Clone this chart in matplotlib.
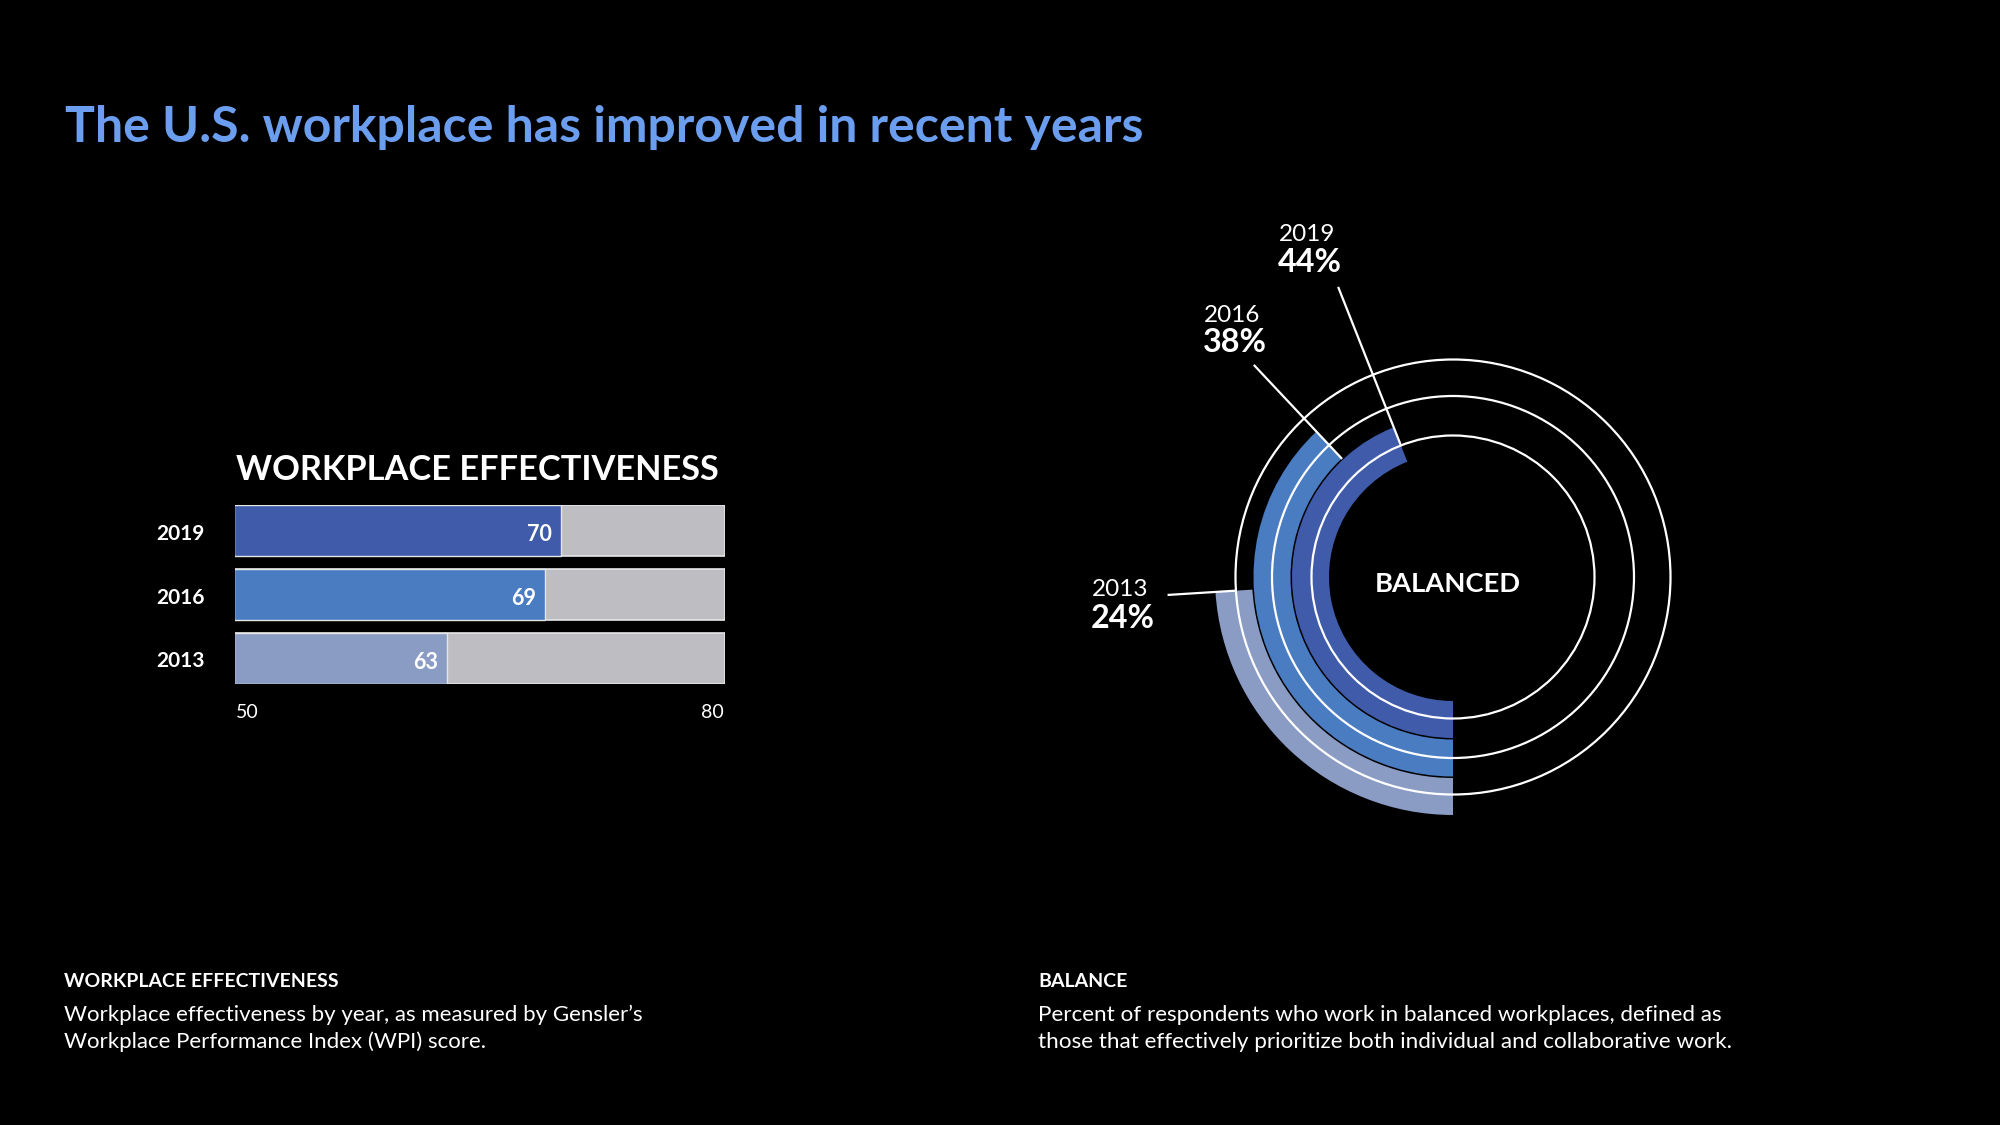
import matplotlib
matplotlib.use("Agg")
import matplotlib.pyplot as plt
import numpy as np
from matplotlib.patches import Wedge, Circle

plt.rcParams['font.family'] = ['Lato', 'DejaVu Sans']

# ---------------- data ----------------
title = "The U.S. workplace has improved in recent years"
bar_title = "WORKPLACE EFFECTIVENESS"
bar_years = ["2019", "2016", "2013"]
wpi_scores = [70, 69, 63]
wpi_min, wpi_max = 50, 80
bar_colors = ["#3F5BAA", "#4A7CC2", "#8A9CC4"]
track_color = "#BEBEC2"

donut_label = "BALANCED"
donut_years = ["2019", "2016", "2013"]
balance_pct = [44, 38, 24]
donut_colors = ["#3F5BAA", "#4A7CC2", "#8A9CC4"]

cap_left_head = "WORKPLACE EFFECTIVENESS"
cap_left_body = ["Workplace effectiveness by year, as measured by Gensler\u2019s",
                 "Workplace Performance Index (WPI) score."]
cap_right_head = "BALANCE"
cap_right_body = ["Percent of respondents who work in balanced workplaces, defined as",
                  "those that effectively prioritize both individual and collaborative work."]

BG = "black"
W, H = 2000, 1125
fig = plt.figure(figsize=(20, 11.25), dpi=100, facecolor=BG)

# overlay axes in pixel coordinates
ov = fig.add_axes([0, 0, 1, 1], facecolor=BG)
ov.set_xlim(0, W)
ov.set_ylim(H, 0)
ov.axis('off')

renderer = fig.canvas.get_renderer()


def fit(t, target_w):
    bb = t.get_window_extent(renderer)
    t.set_fontsize(t.get_fontsize() * target_w / bb.width)
    return t.get_fontsize()


# main title
t = ov.text(65, 141.7, title, color="#6B9EEE", fontsize=34, fontweight='bold',
            ha='left', va='baseline')
fit(t, 1081)

# ---------------- bar chart ----------------
bx0, bx1, by0, by1 = 234.5, 724.8, 505, 684
axb = fig.add_axes([bx0 / W, (H - by1) / H, (bx1 - bx0) / W, (by1 - by0) / H])
axb.set_facecolor(BG)
ypos = np.arange(len(bar_years))
bh = 0.797
axb.barh(ypos, [wpi_max - wpi_min] * len(ypos), left=wpi_min, height=bh,
         color=track_color, edgecolor="#E6E6E6", linewidth=1.2)
axb.barh(ypos, np.array(wpi_scores) - wpi_min, left=wpi_min, height=bh,
         color=bar_colors, edgecolor="#E6E6E6", linewidth=1.0)
axb.set_xlim(wpi_min, wpi_max)
axb.set_ylim(len(ypos) - 1 + bh / 2, -bh / 2)
axb.axis('off')
for i, v in enumerate(wpi_scores):
    axb.annotate(str(v), xy=(v, i), xytext=(-9, -2), textcoords='offset pixels',
                 ha='right', va='center_baseline', color='white', fontsize=15.5,
                 fontweight='bold')
    axb.annotate(bar_years[i], xy=(wpi_min, i), xytext=(-30, -1), textcoords='offset pixels',
                 ha='right', va='center_baseline', color='white', fontsize=15,
                 fontweight='bold')
tr = axb.get_xaxis_transform()
axb.annotate(str(wpi_min), xy=(wpi_min, 0), xycoords=tr, xytext=(1, -34),
             textcoords='offset pixels', ha='left', va='baseline', color='white',
             fontsize=14)
axb.annotate(str(wpi_max), xy=(wpi_max, 0), xycoords=tr, xytext=(-1, -34),
             textcoords='offset pixels', ha='right', va='baseline', color='white',
             fontsize=14)

t = ov.text(235.7, 480, bar_title, color='white', fontsize=23, fontweight='bold',
            ha='left', va='baseline')
fit(t, 484)

# ---------------- donut ----------------
cx, cy, half = 1453, 577, 330
axd = fig.add_axes([(cx - half) / W, (H - cy - half) / H, 2 * half / W, 2 * half / H])
axd.set_facecolor(BG)
axd.set_xlim(-half, half)
axd.set_ylim(-half, half)
axd.axis('off')

outer_r = [161, 199.5, 238]
band_w = 37
ring_r = [141.5, 181, 217.5]
lead_r = [(142, 312), (162, 291), (217, 286)]
for p, ro, col in zip(balance_pct, outer_r, donut_colors):
    axd.add_patch(Wedge((0, 0), ro, 270 - 360 * p / 100, 270, width=band_w,
                        facecolor=col, edgecolor='none', zorder=1))
for r in ring_r:
    axd.add_patch(Circle((0, 0), r, fill=False, edgecolor='white', linewidth=1.6, zorder=2))
for p, (r0, r1) in zip(balance_pct, lead_r):
    a = np.deg2rad(270 - 360 * p / 100)
    axd.plot([r0 * np.cos(a), r1 * np.cos(a)], [r0 * np.sin(a), r1 * np.sin(a)],
             color='white', linewidth=1.6, zorder=3, solid_capstyle='butt')

t = ov.text(1448, 592, donut_label, color='white', fontsize=18, fontweight='bold',
            ha='center', va='baseline')
fit(t, 146)

label_pos = [(1279, 241.3, 272.5), (1204, 322.4, 352.5), (1091.5, 595.6, 627.5)]
for yr, p, (lx, y1, y2) in zip(donut_years, balance_pct, label_pos):
    ov.text(lx, y1, yr, color='white', fontsize=17.5, ha='left', va='baseline')
    tp = ov.text(lx - 1, y2, f"{p}%", color='white', fontsize=20, fontweight='bold',
                 ha='left', va='baseline')
    fit(tp, 64)

# ---------------- captions ----------------
t = ov.text(64, 987, cap_left_head, color='white', fontsize=11, fontweight='bold',
            ha='left', va='baseline')
fit(t, 273)
t = ov.text(1038, 987, cap_right_head, color='white', fontsize=11, fontweight='bold',
            ha='left', va='baseline')
fit(t, 89)

t1 = ov.text(64, 1021, cap_left_body[0], color='white', fontsize=14, ha='left', va='baseline')
fs = fit(t1, 580)
ov.text(64, 1048.5, cap_left_body[1], color='white', fontsize=fs, ha='left', va='baseline')

t2 = ov.text(1038, 1021, cap_right_body[0], color='white', fontsize=14, ha='left', va='baseline')
fs = fit(t2, 685)
ov.text(1038, 1048.5, cap_right_body[1], color='white', fontsize=fs, ha='left', va='baseline')

fig.savefig("out.png", dpi=100, facecolor=BG)
